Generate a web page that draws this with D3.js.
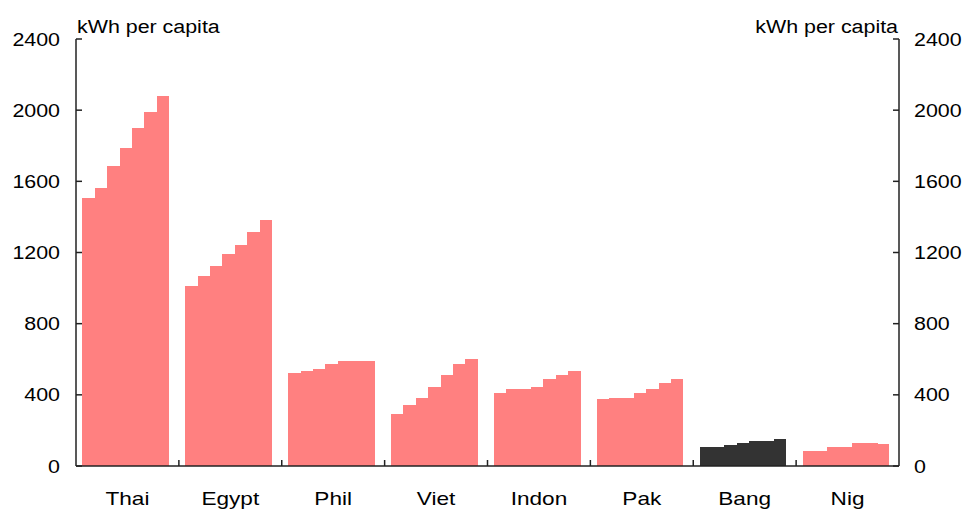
<!DOCTYPE html>
<html>
<head>
<meta charset="utf-8">
<script src="https://cdn.jsdelivr.net/npm/d3@7"></script>
<style>
  body { margin: 0; background: #fff; }
  svg text { font-family: "Liberation Sans", Arial, sans-serif; fill: #000; }
</style>
</head>
<body>
<div id="chart"></div>
<script>
// countries and the seven yearly values for each (kWh per capita)
var countries = ["Thai", "Egypt", "Phil", "Viet", "Indon", "Pak", "Bang", "Nig"];
var years = ["y1", "y2", "y3", "y4", "y5", "y6", "y7"];

var thai  = [1509, 1563, 1685, 1790, 1900, 1990, 2082];
var egypt = [1012, 1070, 1126, 1193, 1242, 1315, 1382];
var phil  = [523, 532, 543, 575, 588, 590, 589];
var viet  = [293, 341, 384, 442, 511, 575, 601];
var indon = [410, 431, 431, 442, 489, 511, 532];
var pak   = [375, 384, 384, 410, 433, 464, 489];
var bang  = [104, 104, 119, 130, 141, 141, 152];
var nig   = [83, 83, 106, 106, 130, 130, 121];

var yTicks = [0, 400, 800, 1200, 1600, 2000, 2400];

var series = [thai, egypt, phil, viet, indon, pak, bang, nig];
var highlight = "Bang";

var width = 963, height = 509;
var margin = { top: 39, right: 64, bottom: 43, left: 76 };
var stretch = 1.19; // the reference text is drawn wide

var svg = d3.select("#chart")
  .append("svg")
  .attr("width", width)
  .attr("height", height);

// wide text helper: position then stretch horizontally
function wideText(sel, x, y, size, anchor, str) {
  return sel.append("text")
    .attr("transform", "translate(" + x + "," + y + ") scale(" + stretch + ",1)")
    .attr("text-anchor", anchor)
    .style("font-size", size + "px")
    .text(str);
}

// cut-off title at the very top
svg.append("text")
  .attr("x", width / 2)
  .attr("y", -5)
  .attr("text-anchor", "middle")
  .style("font-family", "'Liberation Serif', 'Times New Roman', serif")
  .style("font-weight", "bold")
  .style("font-size", "22px")
  .text("Electricity consumption per capita in Bangladesh and peer economies (kWh per capita)");

var x0 = d3.scaleBand()
  .domain(countries)
  .range([margin.left, width - margin.right]);

var x1 = d3.scaleBand()
  .domain(years)
  .range([x0.bandwidth() * 0.063, x0.bandwidth() * 0.905]);

var y = d3.scaleLinear()
  .domain([0, 2400])
  .range([height - margin.bottom, margin.top]);

// bars
var groups = svg.selectAll(".group")
  .data(countries)
  .enter()
  .append("g")
  .attr("class", "group")
  .attr("transform", function (d) { return "translate(" + x0(d) + ",0)"; });

groups.selectAll("rect")
  .data(function (d, i) {
    return series[i].map(function (v, j) { return { c: d, year: years[j], value: v }; });
  })
  .enter()
  .append("rect")
  .attr("x", function (d) { return x1(d.year); })
  .attr("width", function (d, j) { return x1.bandwidth() + (j < 6 ? 1 : 0); })
  .attr("y", function (d) { return y(d.value); })
  .attr("height", function (d) { return y(0) - y(d.value); })
  .attr("shape-rendering", "crispEdges")
  .attr("fill", function (d) { return d.c === highlight ? "#333333" : "#ff8080"; });

// axes lines
var axisG = svg.append("g").attr("class", "axis");
axisG.append("line")
  .attr("x1", margin.left).attr("x2", margin.left)
  .attr("y1", y(2400)).attr("y2", y(0));
axisG.append("line")
  .attr("x1", width - margin.right).attr("x2", width - margin.right)
  .attr("y1", y(2400)).attr("y2", y(0));
axisG.append("line")
  .attr("x1", margin.left).attr("x2", width - margin.right)
  .attr("y1", y(0)).attr("y2", y(0));

// y ticks on both sides, pointing inward
axisG.selectAll(".ltick")
  .data(yTicks)
  .enter()
  .append("line")
  .attr("x1", margin.left).attr("x2", margin.left + 6)
  .attr("y1", function (d) { return y(d); })
  .attr("y2", function (d) { return y(d); });
axisG.selectAll(".rtick")
  .data(yTicks)
  .enter()
  .append("line")
  .attr("x1", width - margin.right - 6).attr("x2", width - margin.right)
  .attr("y1", function (d) { return y(d); })
  .attr("y2", function (d) { return y(d); });

// x ticks on category boundaries
var boundaries = countries.slice(1).map(function (d) { return x0(d); });
axisG.selectAll(".xtick")
  .data(boundaries)
  .enter()
  .append("line")
  .attr("x1", function (d) { return d; })
  .attr("x2", function (d) { return d; })
  .attr("y1", y(0))
  .attr("y2", y(0) - 6);

axisG.selectAll("line").attr("stroke", "#222").attr("stroke-width", 1.5);

// tick labels
yTicks.forEach(function (t) {
  wideText(svg, margin.left - 16, y(t) + 6.5, 18, "end", d3.format("d")(t));
  wideText(svg, width - margin.right + 15, y(t) + 6.5, 18, "start", d3.format("d")(t));
});

countries.forEach(function (c) {
  wideText(svg, x0(c) + x0.bandwidth() / 2, 505, 19, "middle", c);
});

// unit labels
wideText(svg, margin.left + 1, 33, 18, "start", "kWh per capita");
wideText(svg, width - margin.right - 1, 33, 18, "end", "kWh per capita");
</script>
</body>
</html>
